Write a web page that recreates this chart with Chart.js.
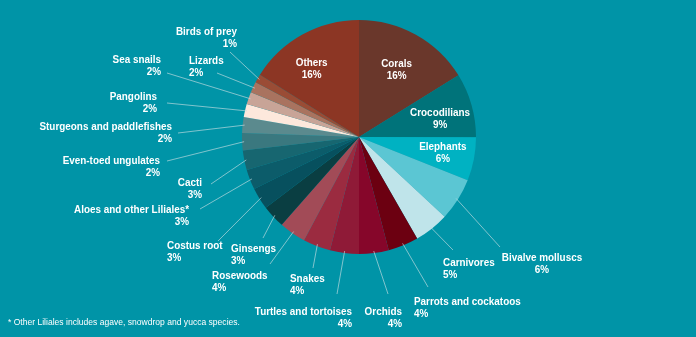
<!DOCTYPE html>
<html>
<head>
<meta charset="utf-8">
<script src="https://cdn.jsdelivr.net/npm/chart.js@4"></script>
<style>
  html, body { margin: 0; padding: 0; background: #0094a7; }
  #wrap { position: relative; width: 696px; height: 337px; }
</style>
</head>
<body>
<div id="wrap"><canvas id="myChart"></canvas></div>
<script>
const labels = [
  "Corals", "Crocodilians", "Elephants", "Bivalve molluscs", "Carnivores",
  "Parrots and cockatoos", "Orchids", "Turtles and tortoises", "Snakes", "Rosewoods",
  "Ginsengs", "Costus root", "Aloes and other Liliales*", "Cacti", "Even-toed ungulates",
  "Sturgeons and paddlefishes", "Pangolins", "Sea snails", "Lizards", "Birds of prey", "Others",
];
const values = [
  16.2, 8.9, 6.0, 5.9, 4.8,
  4.2, 4.1, 4.0, 3.8, 3.7,
  3.2, 3.0, 2.8, 2.7, 2.4,
  2.2, 1.8, 1.7, 1.5, 1.2, 16.1,
];
const pctLabels = [
  "16%", "9%", "6%", "6%", "5%",
  "4%", "4%", "4%", "4%", "4%",
  "3%", "3%", "3%", "3%", "2%",
  "2%", "2%", "2%", "2%", "1%", "16%",
];
const colors = [
  "#6a372b", "#00737a", "#00b2c2", "#5bc6d3", "#bfe4ea",
  "#6c0011", "#86062a", "#8f1a37", "#9b2b40", "#a24b57",
  "#0a3e42", "#07505e", "#0c5c6a", "#176670", "#3a787f",
  "#5b8a8e", "#fde8dc", "#c8a497", "#a9735f", "#9a4c35", "#8c3624",
];
const footnote = "* Other Liliales includes agave, snowdrop and yucca species.";

// label placement: inside = drawn in the slice (radius fraction + nudge);
// otherwise text anchor + leader end
const layout = [
  { inside: true, r: 0.66, dx: 0, dy: 0 },
  { inside: true, r: 0.72, dx: 0, dy: 5 },
  { inside: true, r: 0.73, dx: 0, dy: 0 },
  { x: 542, y: 258, align: "center", lx: 500, ly: 247 },
  { x: 443, y: 263, align: "left", lx: 453, ly: 250 },
  { x: 414, y: 302, align: "left", lx: 428, ly: 287 },
  { x: 402, y: 312, align: "right", lx: 388, ly: 294 },
  { x: 352, y: 312, align: "right", lx: 337, ly: 294 },
  { x: 290, y: 279, align: "left", lx: 313, ly: 268 },
  { x: 212, y: 276, align: "left", lx: 270, ly: 264 },
  { x: 231, y: 249, align: "left", lx: 263, ly: 238 },
  { x: 167, y: 246, align: "left", lx: 218, ly: 241 },
  { x: 189, y: 210, align: "right", lx: 200, ly: 209 },
  { x: 202, y: 183, align: "right", lx: 211, ly: 184 },
  { x: 160, y: 161, align: "right", lx: 167, ly: 161 },
  { x: 172, y: 127, align: "right", lx: 178, ly: 133 },
  { x: 157, y: 97, align: "right", lx: 167, ly: 103 },
  { x: 161, y: 60, align: "right", lx: 167, ly: 73 },
  { x: 189, y: 61, align: "left", lx: 217, ly: 73 },
  { x: 237, y: 32, align: "right", lx: 230, ly: 52 },
  { inside: true, r: 0.66, dx: -10, dy: 0 },
];

const FONT = "bold 11px 'Liberation Sans', Arial, sans-serif";
const SQUEEZE = 0.9;

// narrow text: scale horizontally around the anchor point
function narrowText(ctx, text, x, y, sx) {
  ctx.save();
  ctx.translate(x, y);
  ctx.scale(sx, 1);
  ctx.fillText(text, 0, 0);
  ctx.restore();
}

const labelPlugin = {
  id: "labelPlugin",
  afterDraw(chart) {
    const ctx = chart.ctx;
    const arcs = chart.getDatasetMeta(0).data;
    ctx.save();
    arcs.forEach((arc, i) => {
      const p = arc.getProps(["x", "y", "startAngle", "endAngle", "outerRadius"], true);
      const mid = (p.startAngle + p.endAngle) / 2;
      const L = layout[i];
      ctx.font = FONT;
      ctx.fillStyle = "#ffffff";
      ctx.textBaseline = "middle";
      if (L.inside) {
        const r = p.outerRadius * L.r;
        const tx = p.x + Math.cos(mid) * r + L.dx;
        const ty = p.y + Math.sin(mid) * r + L.dy;
        ctx.textAlign = "center";
        narrowText(ctx, labels[i], tx, ty - 6, SQUEEZE);
        narrowText(ctx, pctLabels[i], tx, ty + 6, SQUEEZE);
        return;
      }
      // leader line
      ctx.strokeStyle = "rgba(190,220,224,0.85)";
      ctx.lineWidth = 0.8;
      ctx.beginPath();
      ctx.moveTo(p.x + Math.cos(mid) * (p.outerRadius - 2), p.y + Math.sin(mid) * (p.outerRadius - 2));
      ctx.lineTo(L.lx, L.ly);
      ctx.stroke();
      ctx.textAlign = L.align;
      narrowText(ctx, labels[i], L.x, L.y, SQUEEZE);
      narrowText(ctx, pctLabels[i], L.x, L.y + 11.5, SQUEEZE);
    });
    ctx.font = "9px 'Liberation Sans', Arial, sans-serif";
    ctx.textAlign = "left";
    ctx.fillStyle = "#ffffff";
    narrowText(ctx, footnote, 8, 323, 0.95);
    ctx.restore();
  },
};

var ctx = document.getElementById("myChart").getContext("2d");
var chart = new Chart(ctx, {
  type: "pie",
  data: {
    labels: labels,
    datasets: [
      {
        data: values,
        backgroundColor: colors,
        borderWidth: 0,
      },
    ],
  },
  options: {
    animation: false,
    responsive: true,
    maintainAspectRatio: false,
    layout: {
      padding: { left: 242, right: 220, top: 20, bottom: 83 },
    },
    plugins: {
      legend: { display: false },
      tooltip: { enabled: false },
    },
  },
  plugins: [labelPlugin],
});
chart.canvas.parentNode.style.height = "337px";
chart.canvas.parentNode.style.width = "696px";
</script>
</body>
</html>
